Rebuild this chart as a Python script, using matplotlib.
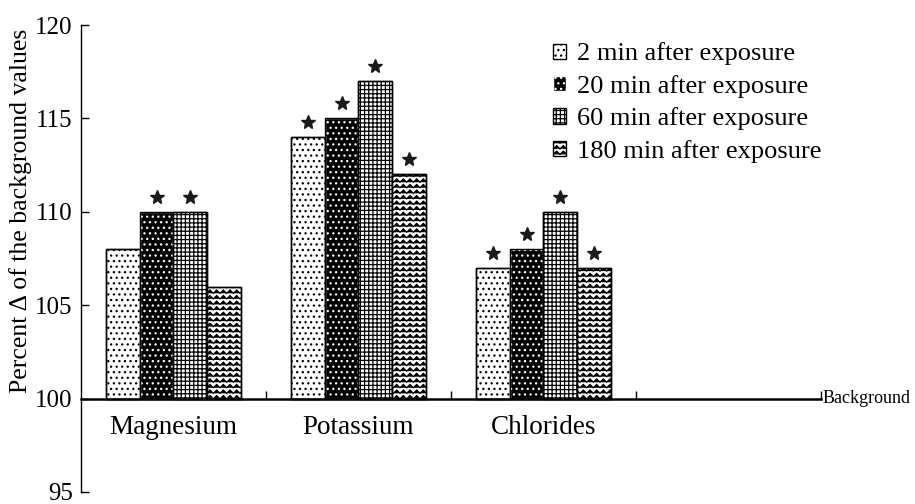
import warnings
import numpy as np
import matplotlib
matplotlib.use('Agg')
import matplotlib.pyplot as plt
import matplotlib.hatch as mhatch
from matplotlib.path import Path

warnings.filterwarnings('ignore')

categories = ['Magnesium', 'Potassium', 'Chlorides']
series = ['2 min after exposure', '20 min after exposure',
          '60 min after exposure', '180 min after exposure']
values = [
    [108, 114, 107],   # 2 min
    [110, 115, 108],   # 20 min
    [110, 117, 110],   # 60 min
    [106, 112, 107],   # 180 min
]
# significance stars per series / category
stars = [
    [False, True, True],
    [True, True, True],
    [True, True, True],
    [False, True, True],
]
yticks = [95, 100, 105, 110, 115, 120]


class ZigzagHatch(mhatch.HatchPatternBase):
    # wavy pattern for the 180 min bars, char 'z'
    def __init__(self, hatch, density):
        self.num_rows = hatch.count('z') * 6
        self.num_teeth = 15 if self.num_rows else 0
        self.per_row = 2 * self.num_teeth + 1
        self.num_vertices = self.num_rows * self.per_row

    def set_vertices_and_codes(self, vertices, codes):
        xs = np.linspace(0.0, 1.0, self.per_row)
        amp = 0.3 / self.num_rows
        wiggle = np.where(np.arange(self.per_row) % 2 == 0, -amp, amp)
        for r in range(self.num_rows):
            y0 = (r + 0.5) / self.num_rows
            sl = slice(r * self.per_row, (r + 1) * self.per_row)
            vertices[sl, 0] = xs
            vertices[sl, 1] = y0 + wiggle
            codes[sl] = Path.LINETO
            codes[r * self.per_row] = Path.MOVETO


mhatch._hatch_types.append(ZigzagHatch)

plt.rcParams['font.family'] = ['Liberation Serif', 'DejaVu Serif']
plt.rcParams['hatch.linewidth'] = 0.9

styles = [
    dict(facecolor='white', edgecolor='black', hatch='...'),
    dict(facecolor='black', edgecolor='white', hatch='...'),
    dict(facecolor='white', edgecolor='black', hatch='++++'),
    dict(facecolor='white', edgecolor='black', hatch='zzz'),
]

fig = plt.figure(figsize=(9.15, 5.04), dpi=100)
ax_bottom_px, ax_top_px = 492, 25
ax = fig.add_axes([0.0885, 1 - ax_bottom_px / 504, 0.8085, (ax_bottom_px - ax_top_px) / 504])

x = np.arange(len(categories))
w = 0.182
for i, name in enumerate(series):
    pos = x + (i - 1.5) * w
    heights = np.array(values[i]) - 100
    ax.bar(pos, heights, w, bottom=100, label=name, linewidth=1.0, **styles[i])
    # outline on top
    ax.bar(pos, heights, w, bottom=100, fill=False, edgecolor='black', linewidth=1.0)
    for p, v, s in zip(pos, values[i], stars[i]):
        if s:
            ax.plot(p, v + 0.8, marker='*', color='#1a1a1a', markersize=10, linestyle='none')

ax.set_xlim(-0.5, 3.5)
ax.set_ylim(95, 120)
ax.spines['top'].set_visible(False)
ax.spines['right'].set_visible(False)
ax.spines['bottom'].set_position(('data', 100))
ax.spines['bottom'].set_linewidth(1.8)
ax.spines['left'].set_linewidth(1.0)
ax.set_yticks(yticks)
ax.tick_params(axis='y', direction='in', length=6, width=1.0, labelsize=18, pad=6)
ax.set_xticks([0.5, 1.5, 2.5, 3.5])
ax.set_xticklabels([])
ax.tick_params(axis='x', direction='in', length=6, width=1.0)

for xi, cat in zip(x, categories):
    ax.text(xi, 99.1, cat, ha='center', va='top', fontsize=19.5)
ax.text(3.51, 100, 'Background', ha='left', va='center', fontsize=13)

ax.set_ylabel('Percent \u0394 of the background values', fontsize=18.5)
ax.yaxis.set_label_coords(-0.066, (ax_bottom_px - 211) / (ax_bottom_px - ax_top_px))

ax.legend(loc='upper left', bbox_to_anchor=(0.590, 0.942), bbox_transform=fig.transFigure,
          frameon=False, fontsize=19, handlelength=0.5, handleheight=0.5,
          handletextpad=0.4, labelspacing=0.36, borderpad=0)

fig.savefig('out.png', dpi=100)
